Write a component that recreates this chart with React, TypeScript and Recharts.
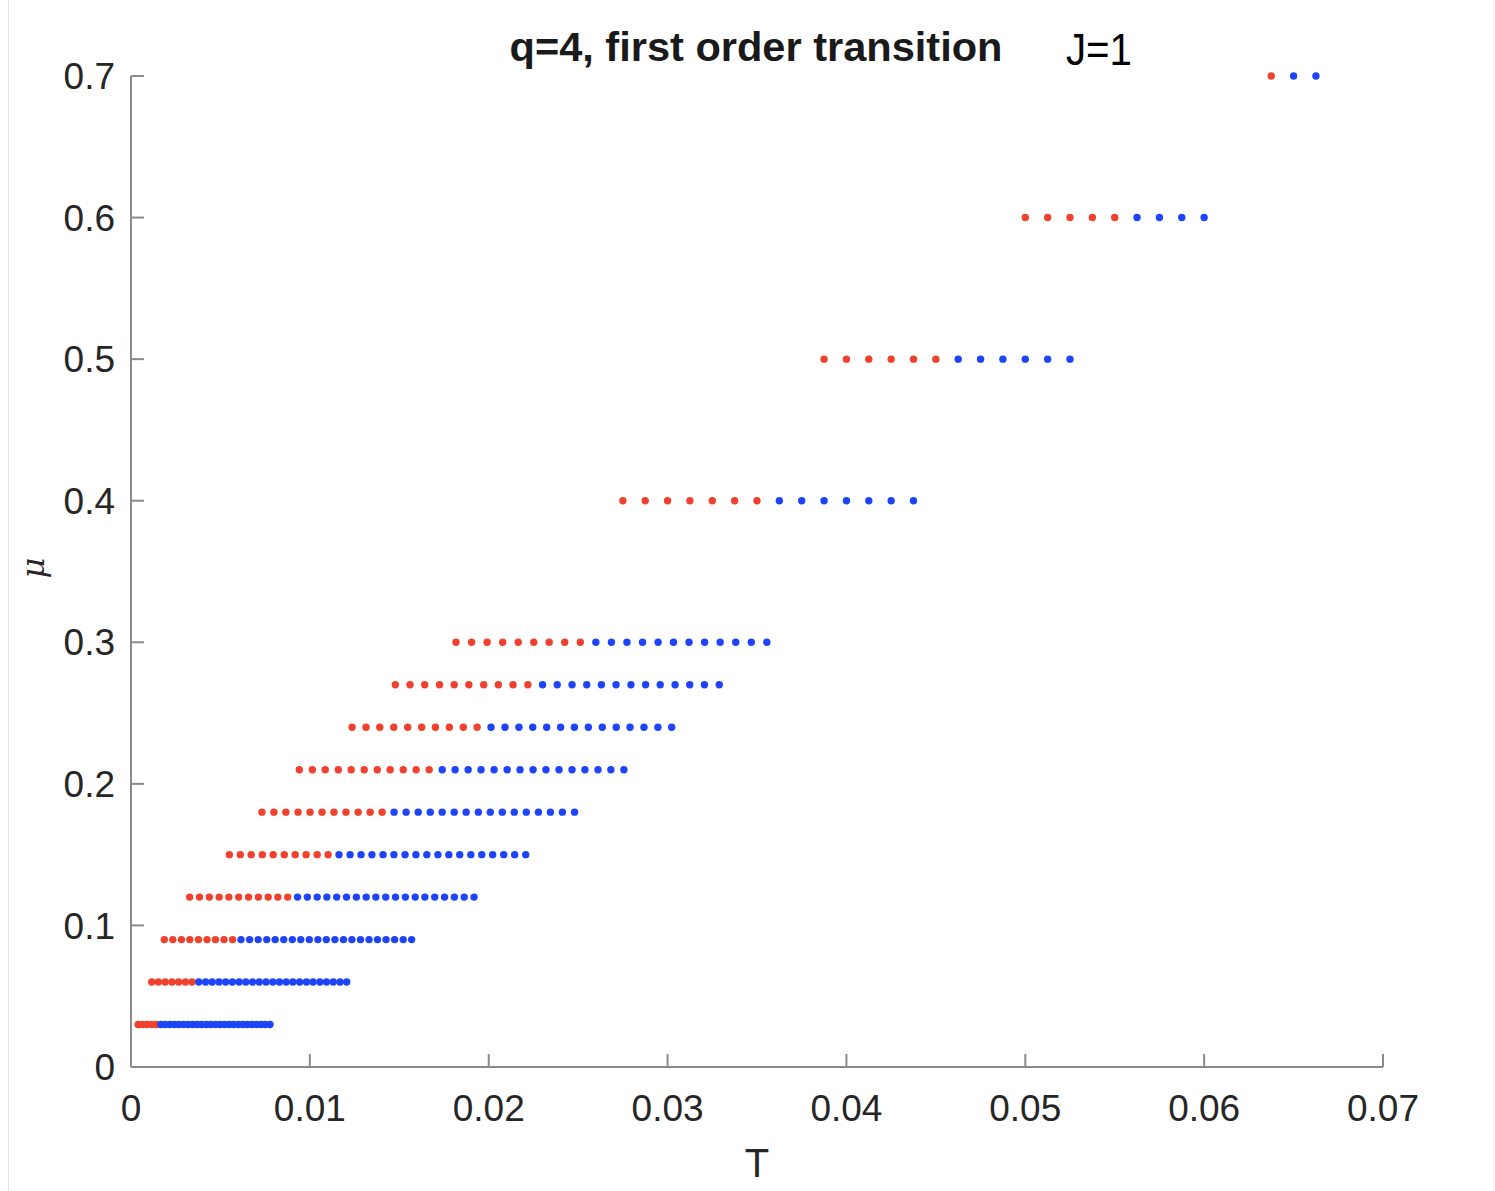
import React from 'react';
import { ScatterChart, Scatter, XAxis, YAxis } from 'recharts';

// chemical potential levels (one row of dots each)
const muLevels = [0.03, 0.06, 0.09, 0.12, 0.15, 0.18, 0.21, 0.24, 0.27, 0.3, 0.4, 0.5, 0.6, 0.7];

// T values of the red dots, one list per mu level
const redT = [
    [0.0004, 0.00065, 0.0009, 0.00116, 0.00141],
    [0.00116, 0.00153, 0.00191, 0.00229, 0.00266, 0.00304, 0.00341],
    [0.00186, 0.00234, 0.00282, 0.00329, 0.00377, 0.00425, 0.00472, 0.0052, 0.00568],
    [0.00328, 0.00383, 0.00438, 0.00493, 0.00547, 0.00602, 0.00657, 0.00712, 0.00767, 0.00821, 0.00876],
    [0.0055, 0.00611, 0.00672, 0.00734, 0.00795, 0.00857, 0.00918, 0.00979, 0.01041, 0.01102],
    [0.00732, 0.00799, 0.00866, 0.00934, 0.01001, 0.01068, 0.01135, 0.01202, 0.0127, 0.01337, 0.01404],
    [0.00941, 0.01014, 0.01086, 0.01159, 0.01231, 0.01304, 0.01377, 0.01449, 0.01522, 0.01594, 0.01667],
    [0.01236, 0.01314, 0.01391, 0.01469, 0.01547, 0.01625, 0.01702, 0.0178, 0.01858, 0.01935],
    [0.01478, 0.0156, 0.01642, 0.01725, 0.01807, 0.01889, 0.01972, 0.02054, 0.02136, 0.02219],
    [0.01817, 0.01904, 0.01991, 0.02078, 0.02165, 0.02252, 0.02338, 0.02425, 0.02512],
    [0.0275, 0.02875, 0.03, 0.03125, 0.0325, 0.03375, 0.035],
    [0.03875, 0.04, 0.04125, 0.0425, 0.04375, 0.045],
    [0.05, 0.05125, 0.0525, 0.05375, 0.055],
    [0.06375],
];

// T values of the blue dots, one list per mu level
const blueT = [
    [0.00167, 0.00192, 0.00218, 0.00243, 0.00268, 0.00294, 0.00319, 0.00345, 0.0037, 0.00395, 0.00421, 0.00446, 0.00472,
        0.00497, 0.00522, 0.00548, 0.00573, 0.00599, 0.00624, 0.00649, 0.00675, 0.007, 0.00726, 0.00751, 0.00777],
    [0.00379, 0.00417, 0.00454, 0.00492, 0.00529, 0.00567, 0.00605, 0.00642, 0.0068, 0.00717, 0.00755, 0.00793,
        0.0083, 0.00868, 0.00905, 0.00943, 0.00981, 0.01018, 0.01056, 0.01093, 0.01131, 0.01169, 0.01206],
    [0.00615, 0.00663, 0.00711, 0.00759, 0.00806, 0.00854, 0.00902, 0.00949, 0.00997, 0.01045, 0.01092, 0.0114,
        0.01188, 0.01235, 0.01283, 0.01331, 0.01378, 0.01426, 0.01474, 0.01522, 0.01569],
    [0.00931, 0.00986, 0.01041, 0.01095, 0.0115, 0.01205, 0.0126, 0.01315, 0.01369, 0.01424, 0.01479, 0.01534,
        0.01589, 0.01643, 0.01698, 0.01753, 0.01808, 0.01863, 0.01918],
    [0.01163, 0.01225, 0.01286, 0.01347, 0.01409, 0.0147, 0.01532, 0.01593, 0.01654, 0.01716, 0.01777, 0.01838,
        0.019, 0.01961, 0.02022, 0.02084, 0.02145, 0.02207],
    [0.01471, 0.01538, 0.01606, 0.01673, 0.0174, 0.01807, 0.01874, 0.01942, 0.02009, 0.02076, 0.02143, 0.0221,
        0.02278, 0.02345, 0.02412, 0.0248],
    [0.0174, 0.01812, 0.01885, 0.01957, 0.0203, 0.02103, 0.02175, 0.02248, 0.0232, 0.02393, 0.02466, 0.02538,
        0.02611, 0.02683, 0.02756],
    [0.02013, 0.02091, 0.02169, 0.02246, 0.02324, 0.02402, 0.02479, 0.02557, 0.02635, 0.02713, 0.0279, 0.02868,
        0.02946, 0.03023],
    [0.02301, 0.02383, 0.02466, 0.02548, 0.0263, 0.02712, 0.02795, 0.02877, 0.02959, 0.03042, 0.03124, 0.03206, 0.03289],
    [0.02599, 0.02686, 0.02773, 0.0286, 0.02947, 0.03033, 0.0312, 0.03207, 0.03294, 0.03381, 0.03468, 0.03555],
    [0.03625, 0.0375, 0.03875, 0.04, 0.04125, 0.0425, 0.04375],
    [0.04625, 0.0475, 0.04875, 0.05, 0.05125, 0.0525],
    [0.05625, 0.0575, 0.05875, 0.06],
    [0.065, 0.06625],
];

const xTicks = [0, 0.01, 0.02, 0.03, 0.04, 0.05, 0.06, 0.07];
const yTicks = [0, 0.1, 0.2, 0.3, 0.4, 0.5, 0.6, 0.7];

const RED = '#F0402E';
const BLUE = '#1E44FA';

const toPoints = (lists: number[][]) =>
    lists.flatMap((row, i) => row.map((t) => ({ T: t, mu: muLevels[i] })));

const redPoints = toPoints(redT);
const bluePoints = toPoints(blueT);

const dot = (color: string) => (props: any) =>
    <circle cx={props.cx} cy={props.cy} r={3.7} fill={color} />;

const tickStyle = { fontFamily: '"Liberation Sans", Arial, sans-serif', fontSize: 37, fill: '#262626' };

const App = () => {
    return (
        <div style={{ position: 'absolute', left: 0, top: 0, width: 1495, height: 1191, background: '#fff' }}>
            <div style={{ position: 'absolute', left: 8, top: 0, width: 1, height: 1191, background: '#e2e2e2' }} />
            <div style={{ position: 'absolute', left: 1493, top: 0, width: 1, height: 1191, background: '#ededed' }} />
            <ScatterChart width={1495} height={1191} margin={{ top: 76, right: 112, bottom: 64, left: 51 }}>
                <XAxis
                    type="number"
                    dataKey="T"
                    domain={[0, 0.07]}
                    ticks={xTicks}
                    interval={0}
                    height={60}
                    stroke="#8a8a8a"
                    strokeWidth={2}
                    tickSize={-13}
                    tickMargin={41}
                    tick={tickStyle}
                    tickLine={{ stroke: '#8a8a8a', strokeWidth: 2 }}
                />
                <YAxis
                    type="number"
                    dataKey="mu"
                    domain={[0, 0.7]}
                    ticks={yTicks}
                    interval={0}
                    width={80}
                    stroke="#8a8a8a"
                    strokeWidth={2}
                    tickSize={-13}
                    tickMargin={29}
                    tick={tickStyle}
                    tickLine={{ stroke: '#8a8a8a', strokeWidth: 2 }}
                />
                <Scatter data={redPoints} fill={RED} shape={dot(RED)} isAnimationActive={false} />
                <Scatter data={bluePoints} fill={BLUE} shape={dot(BLUE)} isAnimationActive={false} />
            </ScatterChart>
            <svg width={1495} height={1191} style={{ position: 'absolute', left: 0, top: 0, pointerEvents: 'none' }}>
                <text x={756} y={61} textAnchor="middle" textLength={493} lengthAdjust="spacingAndGlyphs"
                    style={{ fontFamily: '"Liberation Sans", Arial, sans-serif', fontWeight: 'bold', fontSize: 40, fill: '#1a1a1a' }}>
                    q=4, first order transition
                </text>
                <text x={1066} y={65} textLength={66} lengthAdjust="spacingAndGlyphs"
                    style={{ fontFamily: '"Liberation Sans", Arial, sans-serif', fontSize: 44, fill: '#000' }}>
                    J=1
                </text>
                <text x={757} y={1177} textAnchor="middle"
                    style={{ fontFamily: '"Liberation Sans", Arial, sans-serif', fontSize: 40, fill: '#262626' }}>
                    T
                </text>
                <text x={44} y={568} textAnchor="middle" transform="rotate(-90 44 568)"
                    style={{ fontFamily: '"DejaVu Serif", serif', fontStyle: 'italic', fontSize: 32, fill: '#262626' }}>
                    μ
                </text>
            </svg>
        </div>
    );
};

export default App;
